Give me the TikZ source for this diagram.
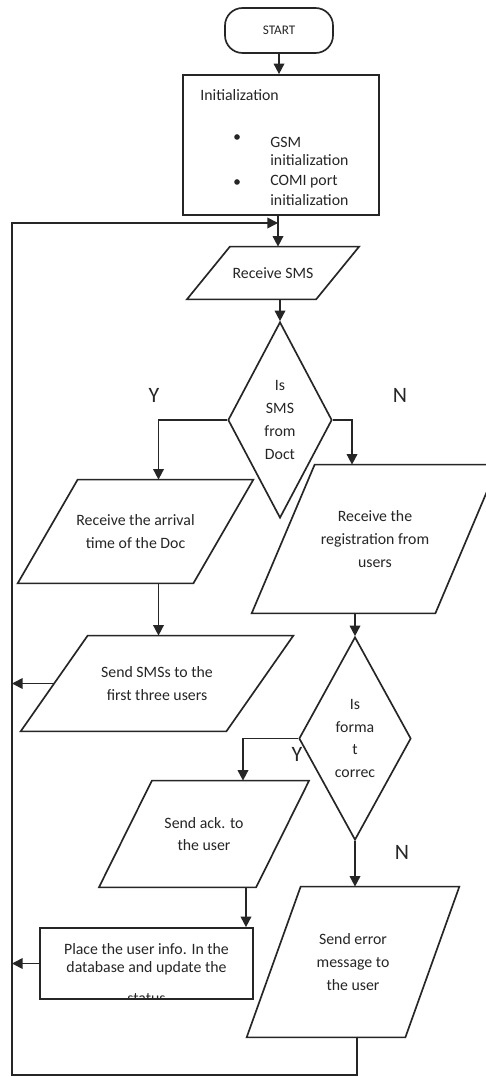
\documentclass[tikz,border=0pt]{standalone}
\usepackage{fontspec}
\setmainfont{Carlito}
\usetikzlibrary{arrows.meta,shapes.geometric}

\tikzset{
  line/.style={line width=0.95pt, draw=black!85},
  arrow/.style={line, -{Triangle[length=6pt,width=6pt]}},
  txt/.style={font=\fontsize{9}{13}\selectfont, align=center, inner sep=0pt, text=black!85},
  lbl/.style={font=\fontsize{12.5}{14}\selectfont, inner sep=0pt, text=black!85},
  decision/.style={txt, line, diamond, aspect=0.5, fill=white},
}

% input/output box: name, x, y, mid width, height, slant, text
\newcommand{\iobox}[7]{%
  \node[txt, minimum width=#4*0.02cm, minimum height=#5*0.02cm] (#1) at (#2,#3) {#7};
  \draw[line] ([xshift=#6*0.01cm]#1.north west) -- ([xshift=#6*0.01cm]#1.north east)
    -- ([xshift=-#6*0.01cm]#1.south east) -- ([xshift=-#6*0.01cm]#1.south west) -- cycle;
}

\begin{document}
\begin{tikzpicture}[x=0.02cm,y=-0.02cm]
    \clip (0,0) rectangle (486,1077);
    \fill[white] (0,0) rectangle (486,1077);

    % start and initialisation
    \node[line, rounded corners=10pt, minimum width=108*0.02cm, minimum height=45*0.02cm,
          font=\fontsize{7.5}{9}\selectfont, text=black!85] (start) at (279,30.5) {START};
    \node[line, minimum width=196*0.02cm, minimum height=140*0.02cm] (init) at (281,145) {};
    \node[txt, anchor=base west] (initT) at (200,101) {Initialization};
    \fill[black!85] (237,137) circle (1.6pt);
    \fill[black!85] (237,182) circle (1.6pt);
    \node[txt, anchor=base west] (gsmA) at (270,148) {GSM};
    \node[txt, anchor=base west] (gsmB) at (270,166) {initialization};
    \node[txt, anchor=base west] (comiA) at (270,186) {COMI port};
    \node[txt, anchor=base west] (comiB) at (270,206) {initialization};

    \coordinate (loopin) at (278,223);
    \coordinate (loopx) at (12,1075);

    % first decision
    \iobox{sms}{273}{273}{128.5}{52}{43}{Receive SMS}
    \node[decision, minimum width=104*0.02cm, minimum height=196*0.02cm] (dec1) at (280,420) {Is\\SMS\\from\\Doct};
    \node[lbl] (y1) at (154,395) {Y};
    \node[lbl] (n1) at (400,395) {N};

    % doctor branch
    \iobox{arrival}{135.5}{531.5}{175}{103}{60}{Receive the arrival\\time of the Doc}
    \iobox{sendsms}{157}{683.5}{205}{95}{67}{Send SMSs to the\\first three users}

    % user branch
    \iobox{reg}{375}{539}{183}{148}{63}{Receive the\\registration from\\users}
    \node[lbl] (y2) at (297,754) {Y};
    \node[decision, minimum width=112*0.02cm, minimum height=203*0.02cm] (dec2) at (355,738.5) {Is\\forma\\t\\correc};
    \node[lbl] (n2) at (402,852) {N};
    \iobox{ack}{204}{834}{156.5}{106}{53}{Send ack. to\\the user}
    \iobox{error}{353}{962}{158}{150}{54}{Send error\\message to\\the user}

    \node[line, minimum width=213*0.02cm, minimum height=71*0.02cm] (place) at (146.5,963.5) {};
    \begin{scope}
      \clip ([yshift=0.6pt]place.south west) rectangle (place.north east);
      \node[txt, font=\fontsize{9}{10.5}\selectfont] (placeT) at (146.5,959) {Place the user info. In the\\database and update the};
      \node[txt, anchor=base] (placeS) at (146.5,1003) {status};
    \end{scope}

    % connectors
    \draw[arrow] (start.south) -- (start.south |- init.north);
    \draw[arrow] (init.south -| loopin) -- (sms.north -| loopin);
    \draw[arrow] (sms.south -| dec1.north) -- (dec1.north);
    \draw[arrow] (dec1.west) -| ([xshift=0.46cm]arrival.north);
    \draw[arrow] (dec1.east) -| ([xshift=-0.46cm]reg.north);
    \draw[arrow] ([xshift=0.46cm]arrival.south) -- ([xshift=0.46cm]arrival.south |- sendsms.north);
    \draw[arrow] (reg.south -| dec2.north) -- (dec2.north);
    \draw[arrow] (dec2.west) -| ([xshift=0.78cm]ack.north);
    \draw[arrow] (dec2.south) -- (dec2.south |- error.north);
    \draw[arrow] ([xshift=0.84cm]ack.south) -- ([xshift=0.84cm]ack.south |- place.north);
    \draw[arrow] (sendsms.west) -- (sendsms.west -| loopx);
    \draw[arrow] (place.west) -- (place.west -| loopx);
    \draw[arrow] ([xshift=0.08cm]error.south) |- (loopx) |- (loopin);
\end{tikzpicture}
\end{document}
